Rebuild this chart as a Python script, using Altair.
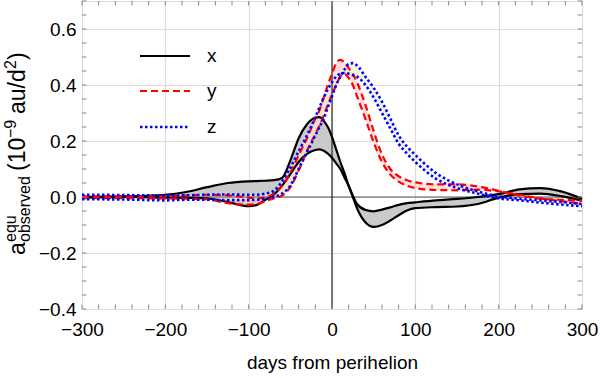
import altair as alt
import pandas as pd

# Days from perihelion at which every curve is sampled
days = [-300, -250, -200, -175, -150, -125, -100, -90, -80, -70, -60, -50, -40, -30,
        -20, -15, -10, -5, 0, 5, 10, 15, 20, 25, 30, 40, 50, 60, 70, 80, 90, 100,
        125, 150, 175, 200, 225, 250, 275, 300]

# x component: two bounding curves of the band (10^-9 au/d^2)
x_a = [0.0, 0.002, 0.008, 0.018, 0.035, 0.05, 0.056, 0.057, 0.058, 0.06, 0.068, 0.13, 0.21, 0.26,
       0.283, 0.285, 0.272, 0.25, 0.215, 0.17, 0.125, 0.085, 0.04, 0.0, -0.04, -0.09, -0.107, -0.1,
       -0.084, -0.065, -0.048, -0.04, -0.036, -0.034, -0.025, -0.002, 0.01, 0.012, 0.003, -0.013]
x_b = [-0.002, 0.0, -0.002, -0.003, -0.005, -0.018, -0.033, -0.028, -0.01, 0.008, 0.04, 0.082, 0.125, 0.154,
       0.168, 0.17, 0.165, 0.155, 0.14, 0.12, 0.1, 0.07, 0.04, 0.005, -0.025, -0.046, -0.051, -0.045,
       -0.037, -0.028, -0.022, -0.019, -0.012, -0.007, 0.0, 0.01, 0.027, 0.032, 0.02, -0.006]

# y component
y_a = [0.002, 0.002, 0.003, 0.005, 0.008, 0.006, -0.002, -0.005, -0.002, 0.012, 0.04, 0.087, 0.15, 0.21,
       0.28, 0.31, 0.355, 0.4, 0.44, 0.478, 0.49, 0.48, 0.46, 0.44, 0.41, 0.33, 0.235, 0.152,
       0.1, 0.074, 0.06, 0.052, 0.045, 0.045, 0.038, 0.022, 0.005, -0.006, -0.01, -0.013]
y_b = [-0.004, -0.004, -0.005, -0.006, -0.008, -0.022, -0.027, -0.025, -0.015, -0.005, 0.005, 0.035, 0.095, 0.165,
       0.225, 0.255, 0.29, 0.33, 0.365, 0.4, 0.43, 0.44, 0.425, 0.4, 0.36, 0.28, 0.195, 0.125,
       0.08, 0.055, 0.04, 0.032, 0.025, 0.024, 0.026, 0.02, 0.008, -0.005, -0.015, -0.024]

# z component
z_a = [0.008, 0.007, 0.005, 0.006, 0.008, 0.009, 0.008, 0.008, 0.012, 0.022, 0.055, 0.105, 0.163, 0.22,
       0.285, 0.32, 0.355, 0.385, 0.41, 0.43, 0.44, 0.443, 0.44, 0.435, 0.43, 0.4, 0.355, 0.3,
       0.245, 0.19, 0.155, 0.125, 0.065, 0.032, 0.012, -0.005, -0.012, -0.02, -0.027, -0.033]
z_b = [-0.008, -0.009, -0.012, -0.01, -0.01, -0.011, -0.011, -0.01, -0.006, 0.0, 0.012, 0.04, 0.1, 0.16,
       0.22, 0.25, 0.28, 0.32, 0.36, 0.4, 0.43, 0.455, 0.475, 0.478, 0.47, 0.43, 0.39, 0.34,
       0.28, 0.22, 0.18, 0.15, 0.085, 0.045, 0.02, 0.002, -0.006, -0.012, -0.018, -0.025]

x_ticks = [-300, -200, -100, 0, 100, 200, 300]
y_ticks = [-0.4, -0.2, 0.0, 0.2, 0.4, 0.6]
x_minor = list(range(-300, 301, 20))
y_minor = [round(-0.4 + 0.05 * i, 2) for i in range(23)]

W, H = 500, 308
OX, OY = 82, 1
FONT = "Liberation Sans"

bands = pd.DataFrame({"day": days, "xa": x_a, "xb": x_b, "ya": y_a, "yb": y_b, "za": z_a, "zb": z_b})

xs = alt.Scale(domain=[-300, 300], nice=False)
ys = alt.Scale(domain=[-0.4, 0.7], nice=False)

base = alt.Chart(bands)

X = alt.X("day:Q", scale=xs,
          axis=alt.Axis(values=x_ticks, ticks=False, domain=False, grid=True, gridColor="#dcdcdc",
                        gridWidth=1.2, labelFont=FONT, labelFontSize=19, labelColor="#000",
                        labelPadding=11, title="days from perihelion", titleFont=FONT,
                        titleFontSize=19, titleFontWeight="normal", titleColor="#000",
                        titlePadding=14, labelFlush=False))


def yenc(col):
    return alt.Y(f"{col}:Q", scale=ys,
                 axis=alt.Axis(values=y_ticks, format=".1f", ticks=False, domain=False, grid=True,
                               gridColor="#dcdcdc", gridWidth=1.2, labelFont=FONT,
                               labelFontSize=19, labelColor="#000", labelPadding=6, title=None,
                               labelFlush=False))


def band(a, b, fill, opacity):
    return base.mark_area(interpolate="monotone", color=fill, opacity=opacity).encode(
        x=X, y=yenc(a), y2=alt.Y2(f"{b}:Q"))


def line(col, color, dash, width):
    kw = dict(interpolate="monotone", color=color, strokeWidth=width)
    if dash:
        kw["strokeDash"] = dash
    return base.mark_line(**kw).encode(x=X, y=yenc(col))


# Origin lines
zero_h = alt.Chart(pd.DataFrame({"v": [0.0]})).mark_rule(color="#555", strokeWidth=1).encode(
    y=alt.Y("v:Q", scale=ys), x=alt.value(0), x2=alt.value(W))
zero_v = alt.Chart(pd.DataFrame({"d": [0]})).mark_rule(color="#000", strokeWidth=1).encode(
    x=alt.X("d:Q", scale=xs), y=alt.value(0), y2=alt.value(H))

# Inward ticks on all four sides of the frame
TL = 4.5
tx = pd.DataFrame({"d": x_minor})
ty = pd.DataFrame({"v": y_minor})
tick_style = dict(color="#888", strokeWidth=1)
ticks = [
    alt.Chart(tx).mark_rule(**tick_style).encode(x=alt.X("d:Q", scale=xs), y=alt.value(H), y2=alt.value(H - TL)),
    alt.Chart(tx).mark_rule(**tick_style).encode(x=alt.X("d:Q", scale=xs), y=alt.value(0), y2=alt.value(TL)),
    alt.Chart(ty).mark_rule(**tick_style).encode(y=alt.Y("v:Q", scale=ys), x=alt.value(0), x2=alt.value(TL)),
    alt.Chart(ty).mark_rule(**tick_style).encode(y=alt.Y("v:Q", scale=ys), x=alt.value(W), x2=alt.value(W - TL)),
]

one = pd.DataFrame({"k": [0]})


def label(text, px, py, size, angle=0, align="left"):
    """Text anchored at page pixel (px, py)."""
    kw = dict(text=text, font=FONT, fontSize=size, color="#000", align=align, baseline="alphabetic")
    if angle:
        kw["angle"] = angle
    return alt.Chart(one).mark_text(**kw).encode(x=alt.value(px - OX), y=alt.value(py - OY))


# Legend
legend = []
for name, color, dash, width, py in [("x", "#000", None, 2.2, 56), ("y", "#ff0000", [7, 4], 2.2, 91),
                                     ("z", "#0000ff", [2.5, 2.5], 2.6, 127)]:
    kw = dict(color=color, strokeWidth=width)
    if dash:
        kw["strokeDash"] = dash
    legend.append(alt.Chart(one).mark_rule(**kw).encode(
        x=alt.value(140 - OX), x2=alt.value(190 - OX), y=alt.value(py - OY)))
    legend.append(label(name, 207, py + 6, 19))

# Rotated y-axis title: a_observed^equ (10^-9 au/d^2)
ytitle = [
    label("a", 25, 255, 23, 270),
    label("equ", 16, 242, 16, 270),
    label("observed", 30, 242, 16, 270),
    label("(10", 25, 171, 23, 270),
    label("−9", 16, 138, 16, 270),
    label("au/d", 25, 114, 23, 270),
    label("2", 16, 69, 16, 270),
    label(")", 25, 60, 23, 270),
]

chart = alt.layer(
    band("xa", "xb", "#c4c4c4", 0.9),
    band("ya", "yb", "#ffc8c8", 0.6),
    band("za", "zb", "#e4f0cc", 0.6),
    zero_h, zero_v,
    line("xa", "#000", None, 2.2), line("xb", "#000", None, 2.2),
    line("ya", "#ff0000", [7, 4], 2.2), line("yb", "#ff0000", [7, 4], 2.2),
    line("za", "#0000ff", [2.5, 2.5], 2.6), line("zb", "#0000ff", [2.5, 2.5], 2.6),
    *ticks, *legend, *ytitle,
).properties(
    width=W, height=H,
    autosize=alt.AutoSizeParams(type="none"),
    padding={"left": OX, "top": OY, "right": 600 - OX - W, "bottom": 378 - OY - H},
).configure_view(stroke="#999", strokeWidth=1).configure(background="white")

chart.save("out.html", embed_options={"renderer": "svg", "actions": False})
